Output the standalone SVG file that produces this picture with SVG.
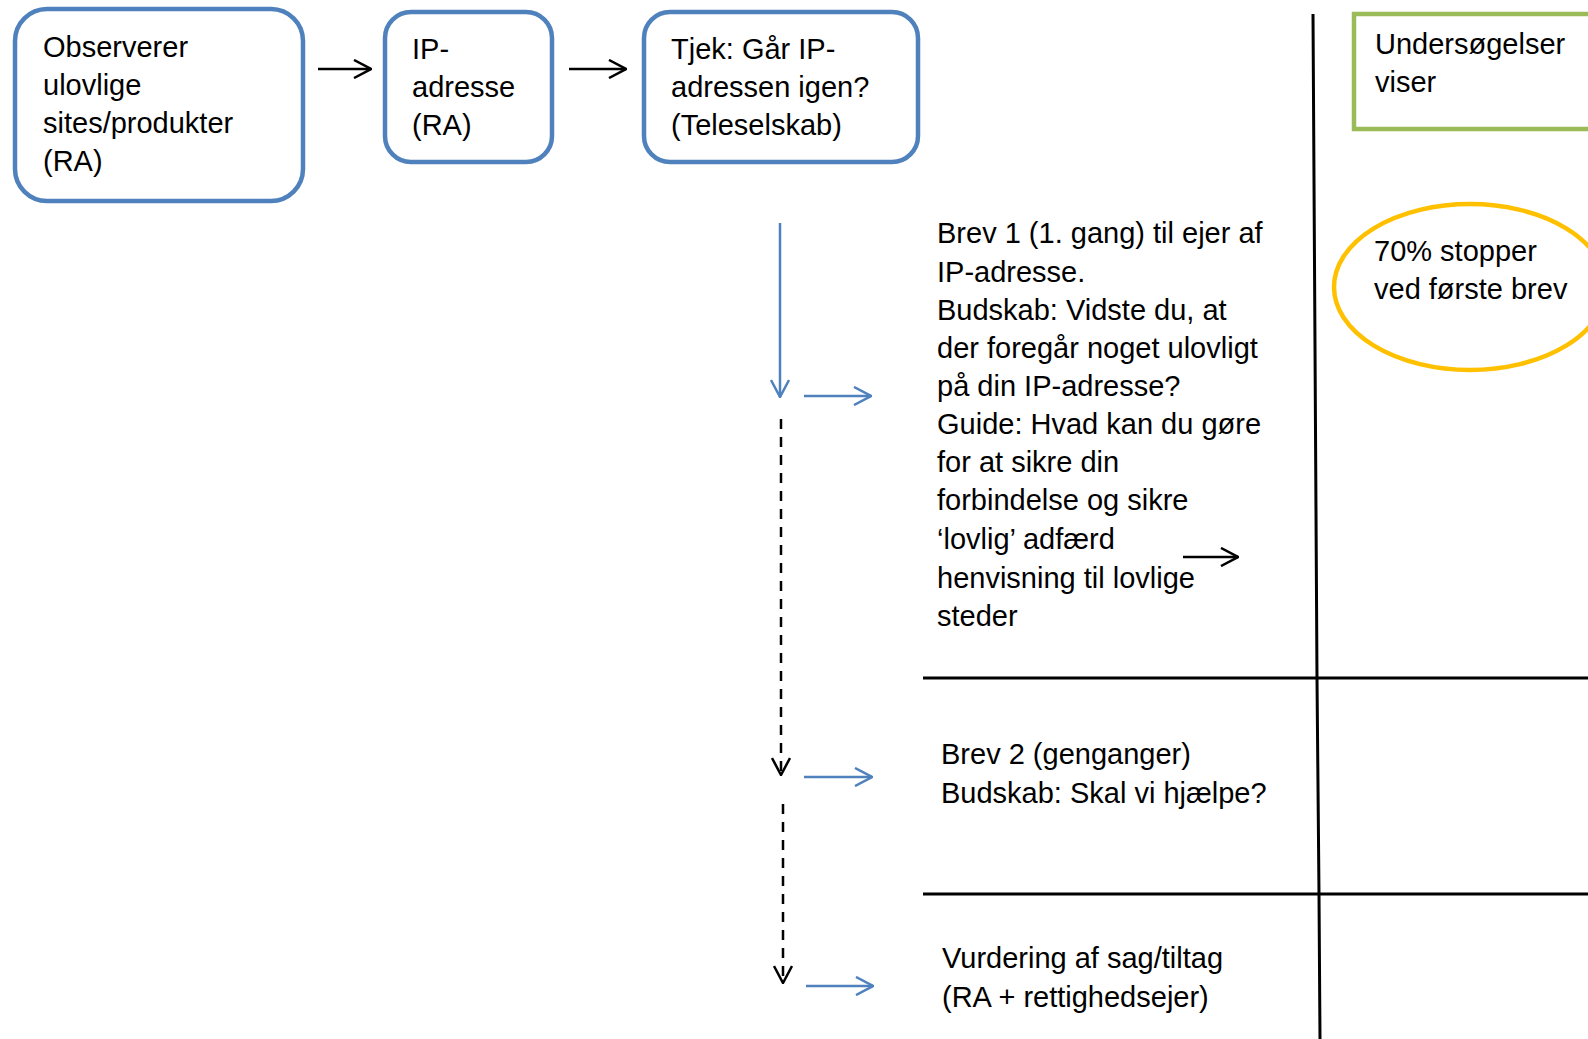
<svg xmlns="http://www.w3.org/2000/svg" width="1588" height="1039" viewBox="0 0 1588 1039">
<style>
text{font-family:"Liberation Sans",Arial,sans-serif;font-size:29px;fill:#000}
.box{fill:#fff;stroke:#4f81bd;stroke-width:4.5}
.blk{stroke:#000;stroke-width:2.5;fill:none}
.blu{stroke:#4f81bd;stroke-width:2.5;fill:none}
.dash{stroke:#000;stroke-width:2.5;fill:none;stroke-dasharray:10 8}
.rule{stroke:#000;stroke-width:3;fill:none}
</style>
<defs>
<marker id="ab" viewBox="0 0 20 20" refX="19" refY="10" markerWidth="20" markerHeight="20" markerUnits="userSpaceOnUse" orient="auto"><path d="M2,1 L19,10 L2,19" fill="none" stroke="#000" stroke-width="2.5"/></marker>
<marker id="au" viewBox="0 0 20 20" refX="19" refY="10" markerWidth="20" markerHeight="20" markerUnits="userSpaceOnUse" orient="auto"><path d="M2,1 L19,10 L2,19" fill="none" stroke="#4f81bd" stroke-width="2.5"/></marker>
</defs>
<g id="lines">
<path class="rule" d="M1313,14 L1317,678 L1319,894 L1320,1039"/>
<line class="rule" x1="923" y1="678" x2="1588" y2="678"/>
<line class="rule" x1="923" y1="894" x2="1588" y2="894"/>
</g>
<g id="node1"><rect class="box" x="15" y="9" width="288" height="192" rx="32"/>
<text x="43" y="57">Observerer</text><text x="43" y="95">ulovlige</text><text x="43" y="133">sites/produkter</text><text x="43" y="171">(RA)</text></g>
<g id="node2"><rect class="box" x="385" y="12" width="167" height="150" rx="26"/>
<text x="412" y="59">IP-</text><text x="412" y="97">adresse</text><text x="412" y="135">(RA)</text></g>
<g id="node3"><rect class="box" x="644" y="12" width="274" height="150" rx="26"/>
<text x="671" y="59">Tjek: Går IP-</text><text x="671" y="97">adressen igen?</text><text x="671" y="135">(Teleselskab)</text></g>
<g id="node4">
<text x="937" y="243">Brev 1 (1. gang) til ejer af</text>
<text x="937" y="282">IP-adresse.</text>
<text x="937" y="320">Budskab: Vidste du, at</text>
<text x="937" y="358">der foregår noget ulovligt</text>
<text x="937" y="396">på din IP-adresse?</text>
<text x="937" y="434">Guide: Hvad kan du gøre</text>
<text x="937" y="472">for at sikre din</text>
<text x="937" y="510">forbindelse og sikre</text>
<text x="937" y="549">‘lovlig’ adfærd</text>
<text x="937" y="588">henvisning til lovlige</text>
<text x="937" y="626">steder</text>
</g>
<g id="node5"><text x="941" y="764">Brev 2 (genganger)</text><text x="941" y="803">Budskab: Skal vi hjælpe?</text></g>
<g id="node6"><text x="942" y="968">Vurdering af sag/tiltag</text><text x="942" y="1007">(RA + rettighedsejer)</text></g>
<g id="node7"><rect x="1354" y="14" width="250" height="115" fill="#fff" stroke="#9bbb59" stroke-width="4.5"/>
<text x="1375" y="54">Undersøgelser</text><text x="1375" y="92">viser</text></g>
<g id="node8"><ellipse cx="1470" cy="287" rx="136" ry="83" fill="none" stroke="#ffc000" stroke-width="4.5"/>
<text x="1374" y="261">70% stopper</text><text x="1374" y="299">ved første brev</text></g>
<g id="connectors">
<line class="blk" x1="318" y1="69" x2="371" y2="69" marker-end="url(#ab)"/>
<line class="blk" x1="569" y1="69" x2="626" y2="69" marker-end="url(#ab)"/>
<line class="blu" x1="780" y1="223" x2="780" y2="397" marker-end="url(#au)"/>
<line class="blu" x1="804" y1="396" x2="871" y2="396" marker-end="url(#au)"/>
<line class="dash" x1="781" y1="419" x2="781" y2="775" marker-end="url(#ab)"/>
<line class="blu" x1="804" y1="777" x2="872" y2="777" marker-end="url(#au)"/>
<line class="dash" x1="783" y1="804" x2="783" y2="983" marker-end="url(#ab)"/>
<line class="blu" x1="806" y1="986" x2="873" y2="986" marker-end="url(#au)"/>
<line class="blk" x1="1183" y1="557" x2="1238" y2="557" marker-end="url(#ab)"/>
</g>
</svg>
